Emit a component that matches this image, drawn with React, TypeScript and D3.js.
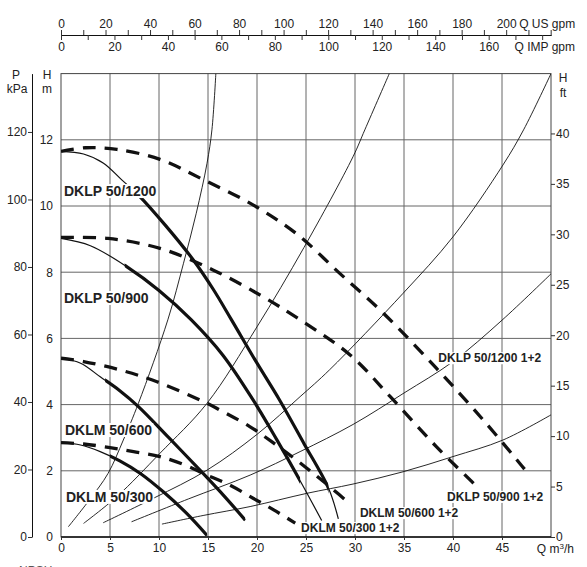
import React, { useEffect, useRef } from 'react';
import * as d3 from 'd3';

type Pt = [number, number]; // [Q m3/h, H m]

// single pump curves
const dklp1200: Pt[] = [[0, 11.65], [2.3, 11.57], [4.3, 11.3], [6.2, 10.79], [7.9, 10.33], [10.7, 9.4], [13.5, 8.37], [15.5, 7.5], [17.4, 6.56], [19.8, 5.35], [22.3, 4.14], [24.8, 2.82], [27.3, 1.47], [28.3, 0.55]];
const dklp900: Pt[] = [[0, 9.02], [3, 8.8], [6.7, 8.17], [10, 7.45], [13.3, 6.56], [16.5, 5.5], [19.6, 4.14], [22, 2.95], [24.4, 1.7], [26.6, 0.5]];
const dklm600: Pt[] = [[0, 5.4], [2, 5.25], [4, 4.84], [6, 4.42], [7.9, 3.94], [11, 3.0], [14.5, 1.92], [16.7, 1.22], [18.8, 0.51]];
const dklm300: Pt[] = [[0, 2.85], [2, 2.78], [4, 2.58], [6, 2.3], [8.1, 1.92], [10.5, 1.35], [12.8, 0.72], [14.9, 0.05]];

// two pumps (1+2) curves
const dklp1200x2: Pt[] = [[0, 11.65], [2.5, 11.76], [5.7, 11.71], [10.1, 11.41], [14.5, 10.8], [19.5, 10.05], [24, 9.17], [28.5, 7.95], [32.9, 6.76], [38.3, 5.1], [43.1, 3.53], [46.8, 2.23], [47.3, 2.05]];
const dklp900x2: Pt[] = [[0, 9.05], [4.8, 9.02], [10.1, 8.72], [15.5, 8.07], [20.6, 7.26], [24.4, 6.56], [29.5, 5.5], [33.6, 4.24], [38.3, 2.73], [42.1, 1.62], [42.6, 1.47]];
const dklm600x2: Pt[] = [[0, 5.4], [2.3, 5.3], [6, 5.05], [9.8, 4.69], [14.9, 4.04], [16.2, 3.84], [19.3, 3.33], [21.5, 2.88], [23.7, 2.4], [25.5, 1.98], [27.5, 1.5], [29.5, 1.0]];
const dklm300x2: Pt[] = [[0, 2.85], [2.3, 2.81], [5, 2.7], [7.4, 2.58], [10.1, 2.43], [13.1, 2.12], [14.5, 1.92], [17.2, 1.57], [19.6, 1.17], [21.7, 0.82], [23.9, 0.42]];

// thin system curves
const sysA: Pt[] = [[0.75, 0.31], [2.9, 1.12], [4.8, 1.92], [6.36, 2.93], [7.9, 4.04], [10.9, 6.56], [12.5, 8.27], [13.8, 9.78], [14.9, 11.29], [15.4, 12.3], [15.8, 14]];
const sysB: Pt[] = [[2.3, 0.41], [5.7, 1.22], [10.1, 2.53], [14.9, 4.04], [20, 6.35], [24.8, 8.75], [29.8, 11.49], [31, 12.3], [33.5, 14]];
const sysC: Pt[] = [[4.3, 0.43], [9.5, 1.18], [14.9, 2.02], [20, 3.1], [24.4, 4.24], [27.4, 5.05], [34.9, 7.36], [40, 9.07], [45.1, 11.24], [47.2, 12.3], [50, 14]];
const sysD: Pt[] = [[7.2, 0.46], [13, 1.15], [19.3, 1.87], [24.4, 2.58], [29.8, 3.4], [35, 4.35], [40, 5.3], [45, 6.55], [50, 7.95]];
const sysE: Pt[] = [[10.3, 0.39], [14.5, 0.65], [19.3, 0.92], [25.1, 1.32], [29.8, 1.6], [34.9, 1.97], [40, 2.43], [45.1, 2.93], [50, 3.69]];

const pumpCurves = [dklp1200, dklp900, dklm600, dklm300];
const thickRanges: Pt[] = [[7.0, 27.3], [6.5, 24.4], [4.5, 18.8], [5.0, 14.9]];
const twinCurves = [dklp1200x2, dklp900x2, dklm600x2, dklm300x2];
const systemCurves = [sysA, sysB, sysC, sysD, sysE];

const pumpLabels = ['DKLP 50/1200', 'DKLP 50/900', 'DKLM 50/600', 'DKLM 50/300'];
const pumpLabelAt: Pt[] = [[0.3, 10.3], [0.3, 7.07], [0.4, 3.08], [0.5, 1.06]];
const twinLabels = ['DKLP 50/1200 1+2', 'DKLP 50/900 1+2', 'DKLM 50/600 1+2', 'DKLM 50/300 1+2'];
const twinLabelAt: Pt[] = [[38.5, 5.28], [39.4, 1.09], [30.5, 0.6], [24.5, 0.15]];

const qTicks = d3.range(0, 50, 5);
const hTicks = d3.range(0, 13, 2);
const kpaTicks = d3.range(0, 121, 20);
const ftTicks = d3.range(0, 41, 5);
const usTicks = d3.range(0, 221, 10);
const impTicks = d3.range(0, 181, 10);

const M3H_TO_US = 4.40287;
const M3H_TO_IMP = 3.66615;
const M_TO_KPA = 9.80665;
const M_TO_FT = 3.28084;

const FONT = '"Liberation Sans", Arial, sans-serif';
const INK = '#222';

export default function App() {
  const svgRef = useRef<SVGSVGElement>(null);

  useEffect(() => {
    if (!svgRef.current) return;
    const svg = d3.select(svgRef.current);
    svg.selectAll('*').remove();

    const x = d3.scaleLinear().domain([0, 50]).range([61, 551]);
    const y = d3.scaleLinear().domain([0, 14]).range([537, 73.6]);
    const xUS = d3.scaleLinear().domain([0, 50 * M3H_TO_US]).range(x.range());
    const xIMP = d3.scaleLinear().domain([0, 50 * M3H_TO_IMP]).range(x.range());
    const yKpa = d3.scaleLinear().domain([0, 14 * M_TO_KPA]).range(y.range());
    const yFt = d3.scaleLinear().domain([0, 14 * M_TO_FT]).range(y.range());

    svg.append('rect').attr('width', 587).attr('height', 567).attr('fill', '#fff');

    // grid
    const grid = svg.append('g').attr('stroke', '#666').attr('stroke-width', 1);
    grid.selectAll('line.v').data(d3.range(5, 50, 5)).join('line').attr('class', 'v')
      .attr('x1', d => x(d)).attr('x2', d => x(d)).attr('y1', y(0)).attr('y2', y(14));
    grid.selectAll('line.h').data(d3.range(2, 14, 2)).join('line').attr('class', 'h')
      .attr('y1', d => y(d)).attr('y2', d => y(d)).attr('x1', x(0)).attr('x2', x(50));
    svg.append('rect')
      .attr('x', x(0)).attr('y', y(14)).attr('width', x(50) - x(0)).attr('height', y(0) - y(14))
      .attr('fill', 'none').attr('stroke', '#444').attr('stroke-width', 1);
    svg.append('line').attr('x1', x(0)).attr('x2', x(50)).attr('y1', y(0)).attr('y2', y(0))
      .attr('stroke', '#111').attr('stroke-width', 1.3);

    const defs = svg.append('defs');
    defs.append('clipPath').attr('id', 'plotclip').append('rect')
      .attr('x', x(0)).attr('y', y(14)).attr('width', x(50) - x(0)).attr('height', y(0) - y(14));

    const line = d3.line<Pt>().x(d => x(d[0])).y(d => y(d[1])).curve(d3.curveCatmullRom.alpha(0.5));
    const plot = svg.append('g').attr('clip-path', 'url(#plotclip)').attr('fill', 'none');

    // system curves
    plot.selectAll('path.sys').data(systemCurves).join('path').attr('class', 'sys')
      .attr('d', d => line(d)).attr('stroke', '#111').attr('stroke-width', 0.9);

    // single pump curves: thin full, thick inside working range
    pumpCurves.forEach((c, i) => {
      const [a, b] = thickRanges[i];
      defs.append('clipPath').attr('id', `thick${i}`).append('rect')
        .attr('x', x(a)).attr('y', 0).attr('width', x(b) - x(a)).attr('height', 567);
      plot.append('path').attr('d', line(c)).attr('stroke', '#111').attr('stroke-width', 1.2);
      plot.append('path').attr('d', line(c)).attr('stroke', '#111').attr('stroke-width', 3.2)
        .attr('clip-path', `url(#thick${i})`);
    });

    // 1+2 curves, dashed
    plot.selectAll('path.twin').data(twinCurves).join('path').attr('class', 'twin')
      .attr('d', d => line(d)).attr('stroke', '#111').attr('stroke-width', 3.3)
      .attr('stroke-dasharray', '13,9');

    // curve labels with white backing
    const addLabel = (txt: string, at: Pt, size: number) => {
      const g = svg.append('g');
      const t = g.append('text').attr('x', x(at[0])).attr('y', y(at[1]))
        .attr('font-family', FONT).attr('font-weight', 'bold').attr('font-size', size)
        .attr('fill', INK).text(txt);
      const bb = (t.node() as SVGTextElement).getBBox();
      g.insert('rect', 'text').attr('x', bb.x - 1).attr('y', bb.y + 1)
        .attr('width', bb.width + 2).attr('height', bb.height - 2).attr('fill', '#fff');
    };
    pumpLabels.forEach((l, i) => addLabel(l, pumpLabelAt[i], 14));
    twinLabels.forEach((l, i) => addLabel(l, twinLabelAt[i], 12));

    const styleAxis = (g: d3.Selection<SVGGElement, unknown, null, undefined>) => {
      g.attr('font-family', FONT).attr('font-size', 12).attr('color', INK);
      g.selectAll('.tick line').attr('stroke', '#333');
    };

    // bottom Q axis
    const bottom = svg.append('g').attr('transform', `translate(0,${y(0)})`)
      .call(d3.axisBottom(x).tickValues(qTicks).tickSize(3).tickPadding(3.5).tickSizeOuter(0));
    bottom.select('.domain').remove();
    styleAxis(bottom);
    const qLab = svg.append('text').attr('x', 574).attr('y', 553).attr('text-anchor', 'end')
      .attr('font-family', FONT).attr('font-size', 12).attr('fill', INK);
    qLab.append('tspan').text('Q m');
    qLab.append('tspan').attr('font-size', 8).attr('dy', -4).text('3');
    qLab.append('tspan').attr('dy', 4).text('/h');

    // left P kPa axis
    const left = svg.append('g').attr('transform', 'translate(32,0)')
      .call(d3.axisLeft(yKpa).tickValues(kpaTicks).tickSize(4).tickPadding(1).tickSizeOuter(0));
    styleAxis(left);
    left.select('.domain').attr('stroke', '#111');

    // H m labels
    const hAxis = svg.append('g').attr('transform', `translate(${x(0) - 7},0)`)
      .call(d3.axisLeft(y).tickValues(hTicks).tickSize(0).tickPadding(1));
    hAxis.select('.domain').remove();
    styleAxis(hAxis);

    // right H ft axis
    const right = svg.append('g').attr('transform', `translate(${x(50)},0)`)
      .call(d3.axisRight(yFt).tickValues(ftTicks).tickSize(4).tickPadding(1).tickSizeOuter(0));
    right.select('.domain').remove();
    styleAxis(right);

    // top flow axes
    const topUS = svg.append('g').attr('transform', 'translate(0,35)')
      .call(d3.axisTop(xUS).tickValues(usTicks).tickSize(5).tickPadding(2).tickSizeOuter(0)
        .tickFormat(d => (+d % 20 === 0 && +d <= 200 ? String(d) : '')));
    styleAxis(topUS);
    topUS.select('.domain').attr('stroke', '#111');
    const topIMP = svg.append('g').attr('transform', 'translate(0,35)')
      .call(d3.axisBottom(xIMP).tickValues(impTicks).tickSize(5).tickPadding(2.5).tickSizeOuter(0)
        .tickFormat(d => (+d % 20 === 0 && +d <= 160 ? String(d) : '')));
    styleAxis(topIMP);
    topIMP.select('.domain').attr('stroke', '#111');

    const txt = (s: string, tx: number, ty: number, anchor = 'middle') =>
      svg.append('text').attr('x', tx).attr('y', ty).attr('text-anchor', anchor)
        .attr('font-family', FONT).attr('font-size', 12).attr('fill', INK).text(s);

    txt('Q US gpm', xUS(200) + 13, 28, 'start');
    txt('Q IMP gpm', 575, 51, 'end');
    txt('P', 16, 78.5);
    txt('kPa', 17, 93);
    txt('H', 47, 78.5);
    txt('m', 47, 92.5);
    txt('H', 563, 82);
    txt('ft', 563, 97);
    txt('NPSH', 19, 575, 'start').attr('fill', '#555');
  }, []);

  return (
    <div style={{ position: 'absolute', left: 0, top: 0 }}>
      <svg ref={svgRef} width={587} height={567} style={{ display: 'block' }} />
    </div>
  );
}
